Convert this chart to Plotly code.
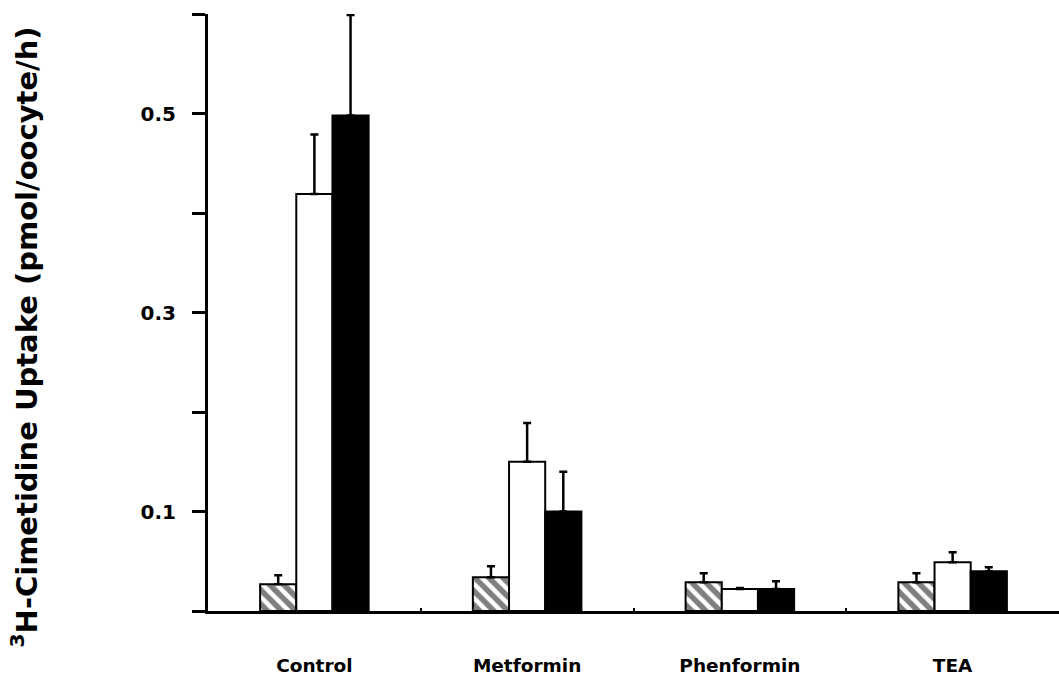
import plotly.graph_objects as go

categories = ["Control", "Metformin", "Phenformin", "TEA"]
hatched_vals = [0.027, 0.034, 0.029, 0.029]
hatched_err_top = [0.036, 0.045, 0.038, 0.038]
white_vals = [0.419, 0.150, 0.022, 0.049]
white_err_top = [0.479, 0.189, 0.023, 0.059]
black_vals = [0.498, 0.100, 0.022, 0.040]
black_err_top = [0.599, 0.140, 0.030, 0.044]

y_tickvals = [0, 0.1, 0.2, 0.3, 0.4, 0.5, 0.6]
y_ticktext = ["", "0.1", "", "0.3", "", "0.5", ""]

FONT = "DejaVu Sans"


def err(top, vals):
    return [t - v for t, v in zip(top, vals)]


def make_bar(vals, tops, color, pattern=None):
    marker = dict(color=color, line=dict(color="black", width=2))
    if pattern:
        marker["pattern"] = pattern
    return go.Bar(
        x=categories,
        y=vals,
        marker=marker,
        error_y=dict(
            type="data",
            symmetric=False,
            array=err(tops, vals),
            arrayminus=[0] * len(vals),
            color="black",
            thickness=2.5,
            width=4,
        ),
        showlegend=False,
    )


fig = go.Figure()
fig.add_trace(make_bar(hatched_vals, hatched_err_top, "white",
                       dict(shape="\\", fgcolor="black", bgcolor="white",
                            size=10, solidity=0.55, fillmode="overlay")))
fig.add_trace(make_bar(white_vals, white_err_top, "white"))
fig.add_trace(make_bar(black_vals, black_err_top, "black"))

fig.update_layout(
    width=1059,
    height=677,
    margin=dict(l=208, r=0, t=14, b=66),
    paper_bgcolor="white",
    plot_bgcolor="white",
    barmode="group",
    bargap=0.49,
    bargroupgap=0,
    font=dict(family=FONT, color="black", size=18, weight="bold"),
)

fig.update_xaxes(
    range=[-0.5, 3.5],
    showgrid=False,
    showline=True,
    linecolor="black",
    linewidth=3,
    ticks="inside",
    tickson="boundaries",
    ticklen=3,
    tickwidth=2,
    tickcolor="black",
    tickfont=dict(family=FONT, size=18.5, color="black", weight="bold"),
    ticklabelstandoff=36,
    zeroline=False,
)

fig.update_yaxes(
    range=[0, 0.6],
    tickvals=y_tickvals,
    ticktext=y_ticktext,
    showgrid=False,
    showline=True,
    linecolor="black",
    linewidth=3,
    ticks="outside",
    ticklen=13,
    tickwidth=2.5,
    tickcolor="black",
    tickfont=dict(family=FONT, size=20, color="black", weight="bold"),
    ticklabelstandoff=12,
    zeroline=False,
)

fig.add_annotation(
    text="<sup>3</sup>H-Cimetidine Uptake (pmol/oocyte/h)",
    xref="paper", yref="paper",
    x=0, y=0.5,
    xanchor="center", yanchor="middle",
    xshift=-184,
    yshift=-25,
    textangle=-90,
    showarrow=False,
    font=dict(family=FONT, size=29, color="black", weight="bold"),
)

fig.write_html("out.html")
